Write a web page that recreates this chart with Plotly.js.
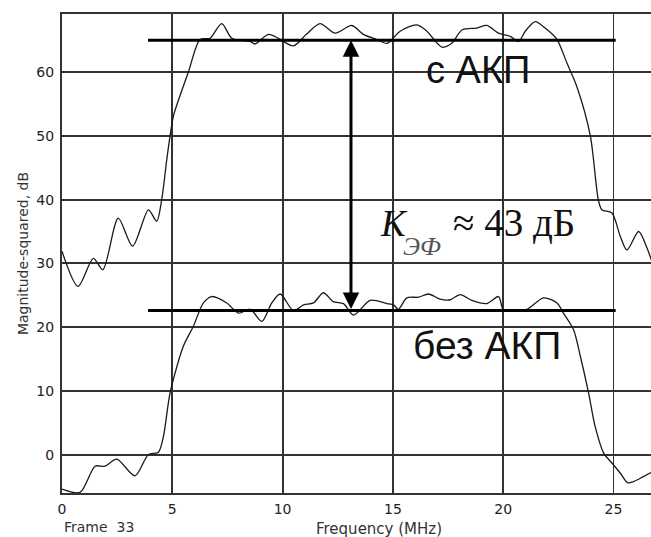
<!DOCTYPE html>
<html>
<head>
<meta charset="utf-8">
<script src="https://cdn.plot.ly/plotly-3.0.1.min.js"></script>
<style>html,body{margin:0;padding:0;background:#fff;}#chart{width:651px;height:537px;}</style>
</head>
<body>
<div id="chart"></div>
<script>
// Upper curve: with АКП (с АКП)
const withX = [0, 0.73, 1.42, 1.85, 2.55, 3.2, 3.92, 4.29, 4.52, 4.75, 4.9, 5.05, 5.73, 6.26, 6.71, 7.24, 7.7, 8.53, 8.75, 9.36, 9.81, 10.49, 11.1, 11.7, 12.38, 13.14, 13.66, 14.27, 14.73, 15.33, 16.09, 16.54, 17.22, 17.67, 18.13, 18.8, 19.26, 19.79, 20.32, 20.7, 21.0, 21.45, 21.9, 22.44, 22.89, 23.34, 23.95, 24.31, 24.47, 24.93, 25.31, 25.61, 26.14, 26.52, 26.71];
const withY = [31.9, 26.4, 30.8, 29.0, 37.1, 32.7, 38.4, 36.6, 40, 46.3, 50, 53.1, 60, 65.1, 65.3, 67.6, 65.3, 64.8, 64.4, 65.9, 65.3, 64.1, 66, 67.6, 66.1, 67.3, 65.9, 65.1, 64.5, 66.4, 67.4, 66.4, 63.9, 64.5, 66.6, 66.9, 67.3, 66.1, 65.6, 64.8, 66.4, 67.9, 66.9, 65.1, 61.4, 57.7, 50, 40, 38.4, 37.9, 34.2, 32.1, 35.0, 32.4, 30.6];
// Lower curve: without АКП (без АКП)
const withoutX = [0, 0.82, 1.5, 1.95, 2.48, 3.31, 3.91, 4.37, 4.6, 4.9, 5.5, 5.95, 6.41, 6.79, 7.47, 8.0, 8.53, 9.06, 9.51, 9.89, 10.49, 10.95, 11.4, 11.85, 12.3, 12.76, 13.21, 13.97, 14.73, 15.03, 15.25, 15.63, 16.16, 16.61, 17.14, 17.6, 18.05, 18.58, 19.26, 19.79, 20.01, 20.47, 21.07, 21.83, 22.44, 22.73, 23.19, 23.5, 23.87, 24.17, 24.55, 24.93, 25.31, 25.64, 25.91, 26.37, 26.7];
const withoutY = [-5.4, -5.9, -1.8, -1.8, -0.7, -3.3, 0, 0.4, 2.9, 9.7, 17, 20.1, 23.8, 24.8, 23.8, 22.2, 22.8, 20.9, 23.8, 25.2, 22.6, 23.5, 23.8, 25.4, 24.0, 23.7, 21.9, 24.2, 23.7, 23.5, 22.8, 24.6, 24.7, 25.2, 24.4, 24.3, 25.1, 24.2, 23.7, 24.8, 22.7, 22.6, 22.8, 24.6, 23.8, 22.2, 19.6, 15.4, 9.7, 4.4, 0.3, -1.3, -2.9, -4.4, -4.2, -3.4, -2.8];
// Mean levels
const levelX = [3.9, 25.1];
const upperLevel = 65;
const lowerLevel = 22.6;
const gainX = 13.1;
// Ticks
const xTicks = [0, 5, 10, 15, 20, 25];
const yTicks = [0, 10, 20, 30, 40, 50, 60];

const lineCol = '#1a1a1a';
const gridCol = '#333';

const traces = [
  {x: withX, y: withY, mode: 'lines', line: {color: lineCol, width: 1.3, shape: 'spline', smoothing: 0.8}, hoverinfo: 'skip'},
  {x: withoutX, y: withoutY, mode: 'lines', line: {color: lineCol, width: 1.3, shape: 'spline', smoothing: 0.8}, hoverinfo: 'skip'},
  {x: levelX, y: levelX.map(() => upperLevel), mode: 'lines', line: {color: '#000', width: 3}, hoverinfo: 'skip'},
  {x: levelX, y: levelX.map(() => lowerLevel), mode: 'lines', line: {color: '#000', width: 3}, hoverinfo: 'skip'}
];

const tickFont = {family: 'DejaVu Sans, sans-serif', size: 14, color: '#222'};
const layout = {
  width: 651, height: 537,
  margin: {l: 62, r: 0, t: 14, b: 44, pad: 0},
  paper_bgcolor: '#fff', plot_bgcolor: '#fff',
  showlegend: false,
  xaxis: {
    range: [0, 26.7], tickvals: xTicks, ticktext: xTicks.map(String),
    showgrid: true, gridcolor: gridCol, gridwidth: 1.8, zeroline: false,
    showline: true, mirror: true, linecolor: gridCol, linewidth: 2,
    ticks: '', tickfont: tickFont, ticklabelstandoff: 2, automargin: false
  },
  yaxis: {
    range: [-6, 69.1], tickvals: yTicks, ticktext: yTicks.map(String),
    showgrid: true, gridcolor: gridCol, gridwidth: 1.8, zeroline: false,
    showline: true, mirror: true, linecolor: gridCol, linewidth: 2,
    ticks: '', tickfont: tickFont, ticklabelstandoff: 3, automargin: false,
    title: {text: 'Magnitude-squared, dB', font: {family: 'DejaVu Sans, sans-serif', size: 14, color: '#333'}, standoff: 4}
  },
  annotations: [
    {x: gainX, y: upperLevel, ax: gainX, ay: lowerLevel, axref: 'x', ayref: 'y', xref: 'x', yref: 'y',
     text: '', showarrow: true, arrowhead: 2, startarrowhead: 2, arrowside: 'end+start', arrowsize: 1.1, startarrowsize: 1.1, arrowwidth: 3, arrowcolor: '#000'},
    {x: 18.87, y: 60.3, xref: 'x', yref: 'y', text: 'с АКП', showarrow: false,
     font: {family: 'Liberation Sans, Arial, sans-serif', size: 38, color: '#111'}},
    {x: 19.27, y: 17.2, xref: 'x', yref: 'y', text: 'без АКП', showarrow: false,
     font: {family: 'Liberation Sans, Arial, sans-serif', size: 39, color: '#111'}},
    {x: 15.03, y: 36.2, xref: 'x', yref: 'y', text: '<i>K</i>', showarrow: false,
     font: {family: 'Liberation Serif, Times New Roman, serif', size: 37, color: '#111'}},
    {x: 16.3, y: 32.6, xref: 'x', yref: 'y', text: '<i>ЭФ</i>', showarrow: false,
     font: {family: 'Liberation Serif, Times New Roman, serif', size: 26, color: '#555'}},
    {x: 17.62, y: 36.4, xref: 'x', yref: 'y', xanchor: 'left', text: '≈ 43 дБ', showarrow: false,
     font: {family: 'Liberation Serif, Times New Roman, serif', size: 39, color: '#111'}},
    {x: 14.38, y: 0, xref: 'x', yref: 'paper', yshift: -47, text: 'Frequency (MHz)', showarrow: false,
     font: {family: 'DejaVu Sans, sans-serif', size: 15, color: '#333'}},
    {x: 1.68, y: 0, xref: 'x', yref: 'paper', yshift: -44, text: 'Frame  33', showarrow: false,
     font: {family: 'DejaVu Sans, sans-serif', size: 14, color: '#333'}}
  ]
};

Plotly.newPlot('chart', traces, layout, {staticPlot: true, displayModeBar: false});
</script>
</body>
</html>
